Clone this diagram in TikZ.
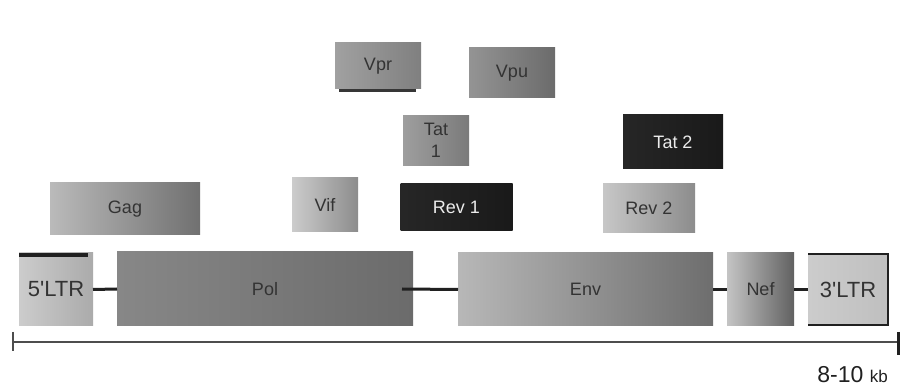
\documentclass[tikz,border=0pt]{standalone}
\usepackage{fontspec}
\setmainfont{Liberation Sans}[Ligatures=TeXOff]
\definecolor{txt}{HTML}{333333}
\definecolor{ltxt}{HTML}{ECECEC}
\definecolor{edge}{HTML}{202020}
\begin{document}
\begin{tikzpicture}[x=1pt,y=-1pt,
  gene/.style={rectangle, inner sep=0pt, outer sep=0pt, text=txt, align=center,
    font=\fontsize{18}{20}\selectfont},
  darkgene/.style={gene, text=ltxt, left color=black!85, right color=black!90},
  link/.style={draw=edge, line width=3pt},
  axisline/.style={draw=edge!80, line width=1.6pt}
]
\useasboundingbox (0,0) rectangle (900,387);
\fill[white] (0,0) rectangle (900,387);

% main genome row
\node[gene, minimum width=74pt, minimum height=73pt, left color=black!20, right color=black!33,
  font=\fontsize{22}{24}\selectfont] (ltr5) at (56,289.5) {5'LTR};
\node[gene, minimum width=296pt, minimum height=74pt, left color=black!47, right color=black!58] (pol) at (265,289) {Pol};
\node[gene, minimum width=255pt, minimum height=73pt, left color=black!28, right color=black!57] (env) at (585.5,289.5) {Env};
\node[gene, minimum width=67pt, minimum height=73pt, left color=black!23, right color=black!62] (nef) at (760.5,289.5) {Nef};
\node[gene, minimum width=80pt, minimum height=71pt, left color=black!20, right color=black!25,
  font=\fontsize{22}{24}\selectfont] (ltr3) at (848,289.5) {3'LTR};

% LTR frames
\fill[edge] (19,253) rectangle (88,257);
\draw[edge, line width=2.5pt] (ltr3.north west) -- (ltr3.north east) -- (ltr3.south east) -- (ltr3.south west);

% connectors
\draw[link] (ltr5.east) -- (pol.west);
\draw[link] ([xshift=-11pt]pol.east) -- (env.west);
\draw[link] (env.east) -- (nef.west);
\draw[link] (nef.east) -- (ltr3.west);

% upper genes
\node[gene, minimum width=150pt, minimum height=52pt, left color=black!27, right color=black!56] (gag) at (125,209) {Gag};
\node[gene, minimum width=66pt, minimum height=54pt, left color=black!20, right color=black!45] (vif) at (325,205) {Vif};
\node[darkgene, minimum width=112pt, minimum height=47pt] (rev1) at (456.5,207.5) {Rev 1};
\node[gene, minimum width=92pt, minimum height=49pt, left color=black!22, right color=black!45] (rev2) at (649,208.5) {Rev 2};
\node[gene, minimum width=66pt, minimum height=50pt, left color=black!38, right color=black!52] (tat1) at (436,140.5) {Tat\\[2pt]1};
\node[darkgene, minimum width=100pt, minimum height=54pt] (tat2) at (673,142) {Tat 2};
\fill[edge!90] (339,88) rectangle (416,92);
\node[gene, minimum width=86pt, minimum height=46pt, left color=black!37, right color=black!50] (vpr) at (378,66) {Vpr};
\node[gene, minimum width=86pt, minimum height=50pt, left color=black!42, right color=black!58] (vpu) at (512,73) {Vpu};

% scale axis
\coordinate (axL) at (13,342);
\coordinate (axR) at (898,342);
\draw[axisline] (axL) -- (axR);
\draw[axisline] (13,332) -- (13,351);
\draw[edge, line width=3pt] (898,332) -- (898,355);
\node[anchor=base east, inner sep=0pt, text=edge] (kb) at (888,383)
  {\fontsize{23}{25}\selectfont 8-10 \fontsize{17}{19}\selectfont kb};
\end{tikzpicture}
\end{document}
